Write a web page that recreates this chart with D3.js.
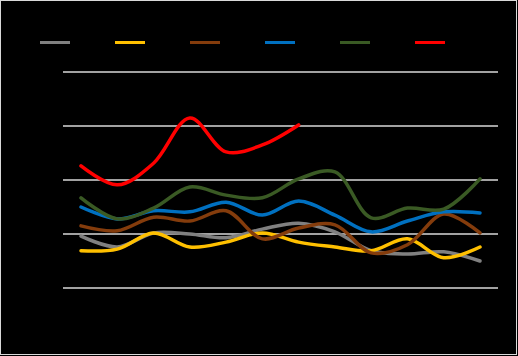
<!DOCTYPE html>
<html><head><meta charset="utf-8">
<script src="https://cdn.jsdelivr.net/npm/d3@7"></script>
<style>html,body{margin:0;padding:0;background:#000;}svg{display:block;}</style>
</head><body>
<script>
const months = ["Jan","Feb","Mar","Apr","May","Jun","Jul","Aug","Sep","Oct","Nov","Dec"];
const seriesNames = ["2018","2019","2020","2021","2022","2023"];
const yTicks = [0,1,2,3,4];
const s2018 = [0.96,0.76,1.02,1.00,0.93,1.09,1.20,1.04,0.69,0.63,0.67,0.50];
const s2019 = [0.69,0.72,1.02,0.76,0.85,1.02,0.85,0.76,0.69,0.91,0.56,0.76];
const s2020 = [1.15,1.06,1.31,1.24,1.43,0.91,1.11,1.17,0.65,0.80,1.37,1.02];
const s2021 = [1.50,1.28,1.43,1.41,1.59,1.35,1.61,1.35,1.04,1.24,1.41,1.39];
const s2022 = [1.67,1.28,1.48,1.87,1.72,1.67,2.02,2.15,1.30,1.48,1.46,2.02];
const s2023 = [2.26,1.91,2.31,3.15,2.52,2.65,3.02];
const colors = ["#808080","#ffc000","#843c0c","#0070c0","#3a5a24","#ff0000"];
const allSeries = [s2018,s2019,s2020,s2021,s2022,s2023];

const W=518,H=356;
const svg=d3.select("body").append("svg").attr("width",W).attr("height",H);
svg.append("rect").attr("width",W).attr("height",H).attr("fill","#000");
svg.append("rect").attr("x",0.5).attr("y",0.5).attr("width",516).attr("height",354)
  .attr("fill","none").attr("stroke","#d9d9d9").attr("stroke-width",1);

const x=d3.scalePoint().domain(months).range([81,480]);
const y=d3.scaleLinear().domain([0,4]).range([288,72]);

// gridlines
svg.append("g").selectAll("line").data(yTicks).join("line")
  .attr("x1",63).attr("x2",498).attr("y1",d=>y(d)).attr("y2",d=>y(d))
  .attr("stroke","#d9d9d9").attr("stroke-width",1.3);

// axes (black text on black)
const yAxis=svg.append("g").attr("transform","translate(63,0)")
  .call(d3.axisLeft(y).tickValues(yTicks).tickSize(0).tickPadding(8));
yAxis.select(".domain").remove();
yAxis.selectAll("text").attr("fill","#000").style("font-family","Liberation Sans, Arial").style("font-size","11px");
const xAxis=svg.append("g").attr("transform","translate(0,288)")
  .call(d3.axisBottom(x).tickSize(0).tickPadding(8));
xAxis.select(".domain").remove();
xAxis.selectAll("text").attr("fill","#000").style("font-family","Liberation Sans, Arial").style("font-size","11px");

const line=d3.line().x((d,i)=>x(months[i])).y(d=>y(d)).curve(d3.curveCatmullRom.alpha(0.5));
allSeries.forEach((s,k)=>{
  svg.append("path").datum(s).attr("d",line).attr("fill","none")
    .attr("stroke",colors[k]).attr("stroke-width",3.5).attr("stroke-linejoin","round").attr("stroke-linecap","round");
});

// legend
const lg=svg.append("g");
seriesNames.forEach((n,k)=>{
  const lx=40+75*k;
  lg.append("line").attr("x1",lx).attr("x2",lx+30).attr("y1",42.5).attr("y2",42.5)
    .attr("stroke",colors[k]).attr("stroke-width",3);
  lg.append("text").attr("x",lx+34).attr("y",46).text(n).attr("fill","#000")
    .style("font-family","Liberation Sans, Arial").style("font-size","11px");
});
</script>
</body></html>
